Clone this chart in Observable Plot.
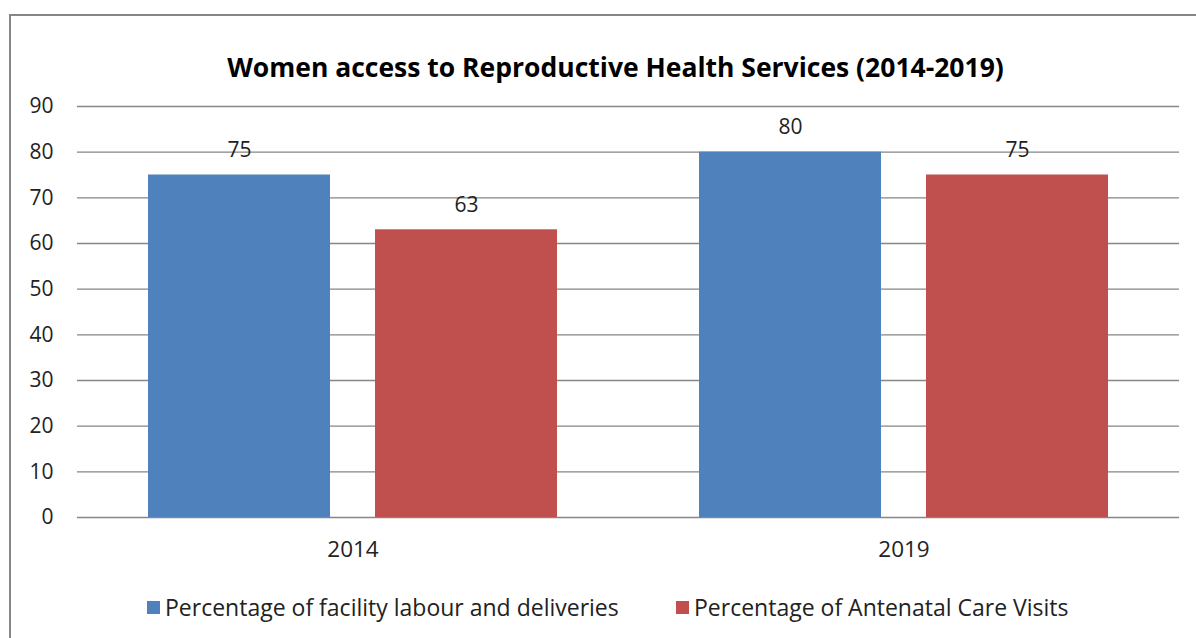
<!DOCTYPE html>
<html>
<head>
<meta charset="utf-8">
<script src="https://cdn.jsdelivr.net/npm/d3@7"></script>
<script src="https://cdn.jsdelivr.net/npm/@observablehq/plot@0.6"></script>
<style>
  html, body { margin: 0; padding: 0; background: #fff; width: 1196px; height: 638px; overflow: hidden; }
  body { font-family: "Open Sans", Lato, sans-serif; position: relative; }
  #frame { position: absolute; left: 9px; top: 14px; width: 1210px; height: 640px; border: 2px solid #868686; box-sizing: border-box; }
  #title { position: absolute; left: 0; width: 1231px; top: 49px; text-align: center; font-weight: bold; font-size: 26.5px; color: #000; line-height: 36px; }
  #chart { position: absolute; left: 0; top: 90px; }
  #legend { position: absolute; top: 594px; left: 0; width: 1196px; height: 26px; font-size: 23px; color: #222; }
  .item { position: absolute; top: 0; display: flex; align-items: center; height: 26px; white-space: nowrap; }
  .sw { width: 13px; height: 13px; margin-right: 5px; }
</style>
</head>
<body>
<div id="frame"></div>
<div id="title">Women access to Reproductive Health Services (2014-2019)</div>
<div id="chart"></div>
<div id="legend"></div>
<script>
const years = ["2014", "2019"];
const seriesNames = ["Percentage of facility labour and deliveries", "Percentage of Antenatal Care Visits"];
const facilityValues = [75, 80];
const antenatalValues = [63, 75];
const seriesColors = ["#4F81BD", "#C0504D"];
const yTicks = [0, 10, 20, 30, 40, 50, 60, 70, 80, 90];

const rows = [];
years.forEach((y, i) => {
  rows.push({year: y, series: seriesNames[0], value: facilityValues[i]});
  rows.push({year: y, series: seriesNames[1], value: antenatalValues[i]});
});

const chart = Plot.plot({
  width: 1196,
  height: 480,
  marginLeft: 77,
  marginRight: 17,
  marginTop: 16,
  marginBottom: 53,
  style: {fontFamily: "'Open Sans', Lato, sans-serif", fontSize: "21px", color: "#222", background: "transparent"},
  fx: {domain: years, padding: 0, label: null},
  x: {domain: seriesNames, paddingInner: 0.197, paddingOuter: 0.307, axis: null},
  y: {domain: [0, 90], ticks: yTicks, label: null, tickSize: 0, tickPadding: 24},
  color: {domain: seriesNames, range: seriesColors},
  marks: [
    Plot.axisFx({anchor: "bottom", tickSize: 0, tickPadding: 24, fontSize: 22.5, label: null}),
    Plot.ruleY(yTicks, {stroke: "#868686", strokeWidth: 1.3, strokeOpacity: 1}),
    Plot.barY(rows, {fx: "year", x: "series", y: "value", fill: "series"}),
    Plot.text(rows, {fx: "year", x: "series", y: "value", text: d => String(d.value), dy: -25, fontSize: 21, fill: "#222"})
  ]
});
document.getElementById("chart").appendChild(chart);

const legend = document.getElementById("legend");
const legendX = [147, 676];
seriesNames.forEach((name, i) => {
  const item = document.createElement("div");
  item.className = "item";
  item.style.left = legendX[i] + "px";
  const sw = document.createElement("div");
  sw.className = "sw";
  sw.style.background = seriesColors[i];
  const label = document.createElement("span");
  label.textContent = name;
  item.appendChild(sw);
  item.appendChild(label);
  legend.appendChild(item);
});
</script>
</body>
</html>
